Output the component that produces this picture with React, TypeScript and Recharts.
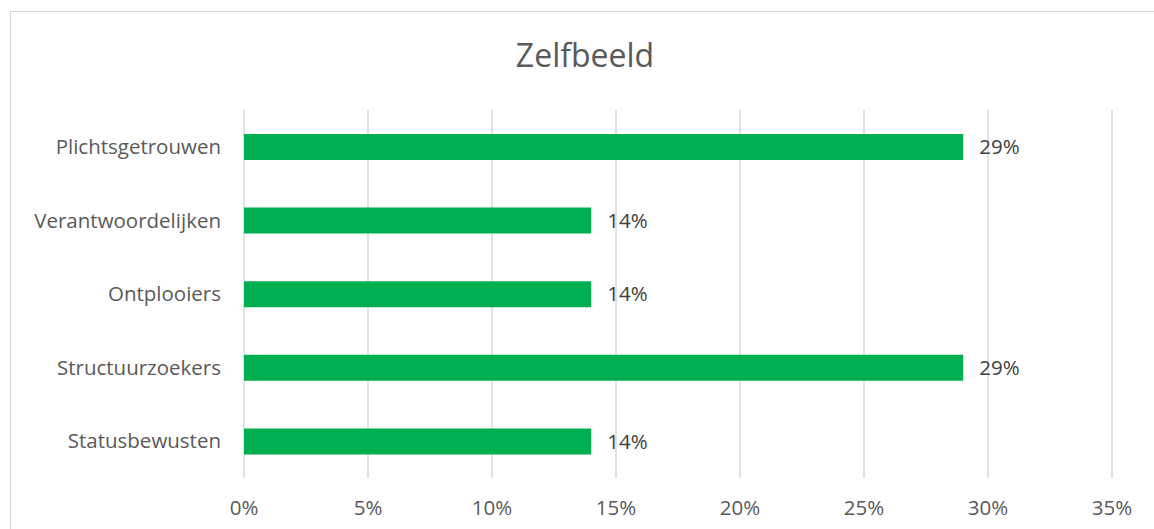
import { BarChart, Bar, XAxis, YAxis, CartesianGrid, LabelList } from "recharts";

const categories = [
  "Plichtsgetrouwen",
  "Verantwoordelijken",
  "Ontplooiers",
  "Structuurzoekers",
  "Statusbewusten",
];
const values = [29, 14, 14, 29, 14];
const xTicks = [0, 5, 10, 15, 20, 25, 30, 35];

const data = categories.map((name, i) => ({ name, value: values[i] }));

const FONT = "'Open Sans', Lato, sans-serif";

export default function App() {
  return (
    <div
      style={{
        position: "absolute",
        left: 0,
        top: 0,
        width: 1154,
        height: 529,
        overflow: "hidden",
        background: "#fff",
        fontFamily: FONT,
      }}
    >
      <div
        style={{
          position: "absolute",
          left: 10,
          top: 11,
          width: 1160,
          height: 540,
          border: "1px solid #d9d9d9",
        }}
      />
      <div
        style={{
          position: "absolute",
          left: 10,
          width: 1150,
          top: 33,
          textAlign: "center",
          fontSize: 32,
          color: "#595959",
        }}
      >
        Zelfbeeld
      </div>
      <div style={{ position: "absolute", left: 0, top: 0 }}>
        <BarChart
          width={1154}
          height={529}
          data={data}
          layout="vertical"
          margin={{ top: 110, right: 42, bottom: 0, left: 10 }}
        >
          <CartesianGrid horizontal={false} vertical stroke="#d9d9d9" strokeWidth={1.5} />
          <XAxis
            type="number"
            domain={[0, 35]}
            ticks={xTicks}
            tickFormatter={(v) => `${v}%`}
            axisLine={false}
            tickLine={false}
            tickSize={0}
            tickMargin={22}
            height={51}
            tick={{ fill: "#595959", fontSize: 20.5, fontFamily: FONT }}
            interval={0}
          />
          <YAxis
            type="category"
            dataKey="name"
            width={234}
            axisLine={false}
            tickLine={false}
            tickSize={0}
            tickMargin={23}
            tick={{ fill: "#595959", fontSize: 20.5, fontFamily: FONT }}
          />
          <Bar dataKey="value" fill="#00b050" barSize={26} isAnimationActive={false}>
            <LabelList
              dataKey="value"
              position="right"
              offset={16}
              formatter={(v: number) => `${v}%`}
              style={{ fill: "#404040", fontSize: 20.5, fontFamily: FONT }}
            />
          </Bar>
        </BarChart>
      </div>
    </div>
  );
}
